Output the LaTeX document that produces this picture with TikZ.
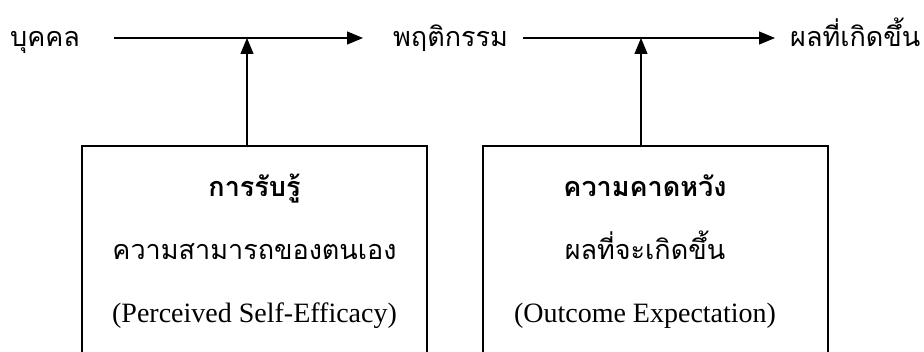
\documentclass[tikz,border=0pt]{standalone}
\usepackage{fontspec}
\setmainfont{Liberation Serif}
\newfontfamily\thaifont[Script=Thai]{Loma}
\usetikzlibrary{arrows.meta}
\tikzset{
  stage/.style={font=\thaifont\fontsize{27}{30}\selectfont, inner sep=0pt, text height=22pt, text depth=4pt, anchor=west},
  factor/.style={draw, line width=2pt, outer sep=0pt, minimum width=345pt, minimum height=260pt, anchor=north},
  headline/.style={font=\thaifont\bfseries\fontsize{27}{30}\selectfont, inner sep=0pt, anchor=base},
  subline/.style={font=\thaifont\fontsize{27}{30}\selectfont, inner sep=0pt, anchor=base},
  engline/.style={font=\fontsize{28}{32}\selectfont, inner sep=0pt, anchor=base},
  link/.style={-{Triangle[length=16pt,width=13pt]}, line width=1.1pt}
}
\begin{document}
\begin{tikzpicture}[x=1pt, y=-1pt]
  \useasboundingbox (0,0) rectangle (924,352);
  \clip (0,0) rectangle (924,352);
  \node[stage] (person) at (10,38) {บุคคล};
  \node[stage] (behavior) at (393,38) {พฤติกรรม};
  \node[stage] (outcome) at (790,38) {ผลที่เกิดขึ้น};
  \draw[link, shorten <=34pt, shorten >=30pt] (person) -- (behavior);
  \draw[link, shorten <=15pt, shorten >=15pt] (behavior) -- (outcome);
  \node[factor] (efficacy) at (254.5,146) {};
  \node[factor] (expect) at (655,146) {};
  \node[headline] (efftitle) at (254.5,197) {การรับรู้};
  \node[subline] (effname) at (254.5,260) {ความสามารถของตนเอง};
  \node[engline] (effeng) at (254.5,323) {(Perceived Self-Efficacy)};
  \node[headline] (exptitle) at (645,197) {ความคาดหวัง};
  \node[subline] (expname) at (645,260) {ผลที่จะเกิดขึ้น};
  \node[engline] (expeng) at (645,323) {(Outcome Expectation)};
  \coordinate (effjoin) at (247,38);
  \coordinate (expjoin) at (641,38);
  \draw[link] (effjoin |- efficacy.north) -- (effjoin);
  \draw[link] (expjoin |- expect.north) -- (expjoin);
\end{tikzpicture}
\end{document}
